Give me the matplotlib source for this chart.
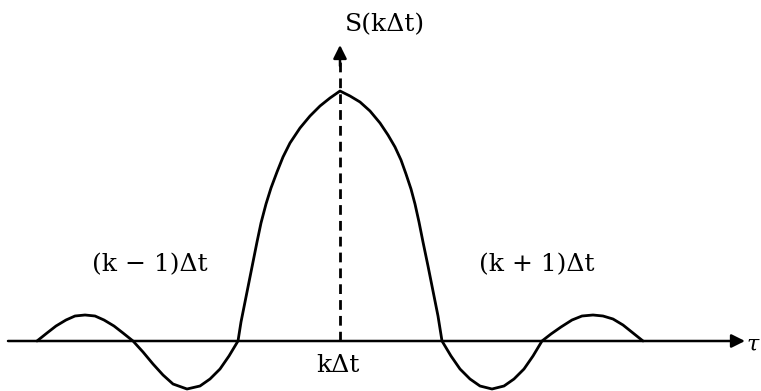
import matplotlib
matplotlib.use("Agg")
import matplotlib.pyplot as plt

# Curve S(tau), tau in units of Δt relative to kΔt, S normalised to the peak
tau = [-3.03, -2.93, -2.84, -2.74, -2.65, -2.55, -2.45, -2.36, -2.26, -2.17, -2.07,
       -1.97, -1.87, -1.77, -1.67, -1.53, -1.40, -1.30, -1.20, -1.11, -1.02,
       -0.99, -0.95, -0.91, -0.87, -0.83, -0.79, -0.74, -0.69, -0.63, -0.57, -0.50,
       -0.40, -0.30, -0.20, -0.10, 0.00,
       0.10, 0.20, 0.30, 0.40, 0.48, 0.55, 0.61, 0.66, 0.71, 0.75, 0.79, 0.83,
       0.88, 0.93, 0.98, 1.02,
       1.11, 1.20, 1.30, 1.40, 1.52, 1.64, 1.74, 1.84, 1.93, 2.02,
       2.11, 2.21, 2.32, 2.42, 2.53, 2.63, 2.73, 2.83, 2.93, 3.03]
S = [0.0, 0.032, 0.060, 0.084, 0.100, 0.104, 0.100, 0.084, 0.060, 0.032, 0.0,
     -0.044, -0.092, -0.136, -0.172, -0.192, -0.180, -0.152, -0.112, -0.060, 0.0,
     0.076, 0.156, 0.236, 0.316, 0.396, 0.472, 0.548, 0.612, 0.676, 0.736, 0.792,
     0.852, 0.900, 0.940, 0.972, 1.0,
     0.980, 0.956, 0.920, 0.872, 0.824, 0.776, 0.724, 0.668, 0.608, 0.548, 0.476, 0.396,
     0.300, 0.200, 0.100, 0.0,
     -0.060, -0.112, -0.152, -0.180, -0.192, -0.180, -0.152, -0.112, -0.060, 0.0,
     0.028, 0.056, 0.084, 0.100, 0.104, 0.100, 0.088, 0.064, 0.032, 0.0]

label_left = "(k − 1)Δt"
label_right = "(k + 1)Δt"
label_center = "kΔt"
label_y = "S(kΔt)"
label_x = "τ"

fig = plt.figure(figsize=(7.61, 3.91), dpi=100)
ax = fig.add_axes([0, 0, 1, 1])
ax.set_xlim(-3.40, 4.21)
ax.set_ylim(-0.2, 1.364)
ax.axis("off")

font = dict(family="DejaVu Serif", fontsize=18, color="black")

# horizontal axis with arrow
ax.annotate("", xy=(4.05, 0), xytext=(-3.32, 0),
            arrowprops=dict(arrowstyle="-|>", mutation_scale=20, lw=1.8, color="black",
                            shrinkA=0, shrinkB=0))
# vertical dashed axis with arrow head
ax.plot([0, 0], [0, 1.12], color="black", lw=2, linestyle=(0, (3.5, 2.2)))
ax.annotate("", xy=(0, 1.184), xytext=(0, 1.10),
            arrowprops=dict(arrowstyle="-|>", mutation_scale=20, lw=1.8, color="black",
                            shrinkA=0, shrinkB=0))

ax.plot(tau, S, color="black", lw=2, solid_joinstyle="round", solid_capstyle="round")

ax.text(-1.90, 0.304, label_left, ha="center", va="center", **font)
ax.text(1.97, 0.304, label_right, ha="center", va="center", **font)
ax.text(-0.02, -0.096, label_center, ha="center", va="center", **font)
ax.text(0.05, 1.264, label_y, ha="left", va="center", **font)
ax.text(4.07, -0.016, label_x, ha="left", va="center", style="italic",
        family="DejaVu Serif", fontsize=16, color="black")

fig.savefig("out.png", dpi=100)
